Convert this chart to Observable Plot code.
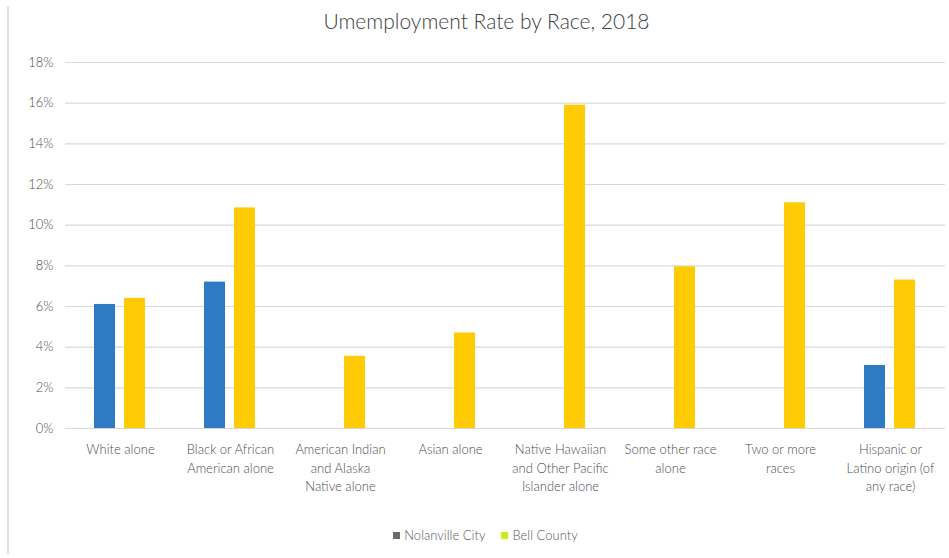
<!DOCTYPE html>
<html>
<head>
<meta charset="utf-8">
<script src="https://cdn.jsdelivr.net/npm/d3@7"></script>
<script src="https://cdn.jsdelivr.net/npm/@observablehq/plot@0.6"></script>
<style>
  body { margin: 0; background: #fff; font-family: Lato, "Open Sans", sans-serif; }
  #wrap { width: 949px; height: 558px; position: relative; }
  #border { position: absolute; left: 7px; top: 6px; width: 2px; height: 548px; background: #e0e0e0; }
  #title { height: 40px; line-height: 42px; text-align: center; font-size: 21px; font-weight: 300; color: #404040; padding-left: 24px; }
  #legend { display: flex; justify-content: center; gap: 16px; font-size: 13px; color: #595959; font-weight: 300; margin-top: 12px; padding-left: 22px; }
  #legend span.sw { display: inline-block; width: 7px; height: 7px; margin-right: 4px; vertical-align: 1px; }
</style>
</head>
<body>
<div id="wrap">
  <div id="border"></div>
  <div id="title">Umemployment Rate by Race, 2018</div>
  <div id="chart"></div>
  <div id="legend"></div>
</div>
<script>
const categories = ["White alone", "Black or African American alone", "American Indian and Alaska Native alone", "Asian alone", "Native Hawaiian and Other Pacific Islander alone", "Some other race alone", "Two or more races", "Hispanic or Latino origin (of any race)"];
const categoryLabels = ["White alone", "Black or African\nAmerican alone", "American Indian\nand Alaska\nNative alone", "Asian alone", "Native Hawaiian\nand Other Pacific\nIslander alone", "Some other race\nalone", "Two or more\nraces", "Hispanic or\nLatino origin (of\nany race)"];
const series = ["Nolanville City", "Bell County"];
const nolanville = [6.1, 7.2, null, null, null, null, null, 3.1];
const bellCounty = [6.4, 10.85, 3.55, 4.7, 15.9, 7.95, 11.1, 7.3];
const yTicks = [0, 2, 4, 6, 8, 10, 12, 14, 16, 18];
const barColors = ["#2e7bc4", "#ffcb05"];
const legendColors = ["#6b6b6b", "#c6ef1a"];

const data = [];
categories.forEach((c, i) => {
  if (nolanville[i] != null) data.push({category: c, series: series[0], value: nolanville[i]});
  if (bellCounty[i] != null) data.push({category: c, series: series[1], value: bellCounty[i]});
});

const chart = Plot.plot({
  width: 949,
  height: 475,
  marginTop: 22,
  marginBottom: 87,
  marginLeft: 65,
  marginRight: 4,
  style: {fontFamily: "Lato, 'Open Sans', sans-serif", color: "#4d4d4d", background: "#fff"},
  fx: {domain: categories, padding: 0, label: null, axis: null},
  x: {domain: series, paddingInner: 0.29, paddingOuter: 0.92, axis: null},
  y: {domain: [0, 18], label: null},
  color: {domain: series, range: barColors},
  marks: [
    Plot.ruleY(yTicks, {stroke: "#d9d9d9", strokeWidth: 1.2}),
    Plot.barY(data, {fx: "category", x: "series", y: "value", fill: "series"}),
    Plot.axisY({ticks: yTicks, tickFormat: d => d + "%", tickSize: 0, tickPadding: 12, fontSize: 13, label: null, fontWeight: 300}),
    Plot.axisFx({anchor: "bottom", tickSize: 0, tickPadding: 13, fontSize: 13, lineHeight: 1.4, label: null, fontWeight: 300,
      tickFormat: c => categoryLabels[categories.indexOf(c)]})
  ]
});
document.getElementById("chart").appendChild(chart);

const legend = document.getElementById("legend");
series.forEach((s, i) => {
  const item = document.createElement("div");
  const sw = document.createElement("span");
  sw.className = "sw";
  sw.style.background = legendColors[i];
  item.appendChild(sw);
  item.appendChild(document.createTextNode(s));
  legend.appendChild(item);
});
</script>
</body>
</html>
